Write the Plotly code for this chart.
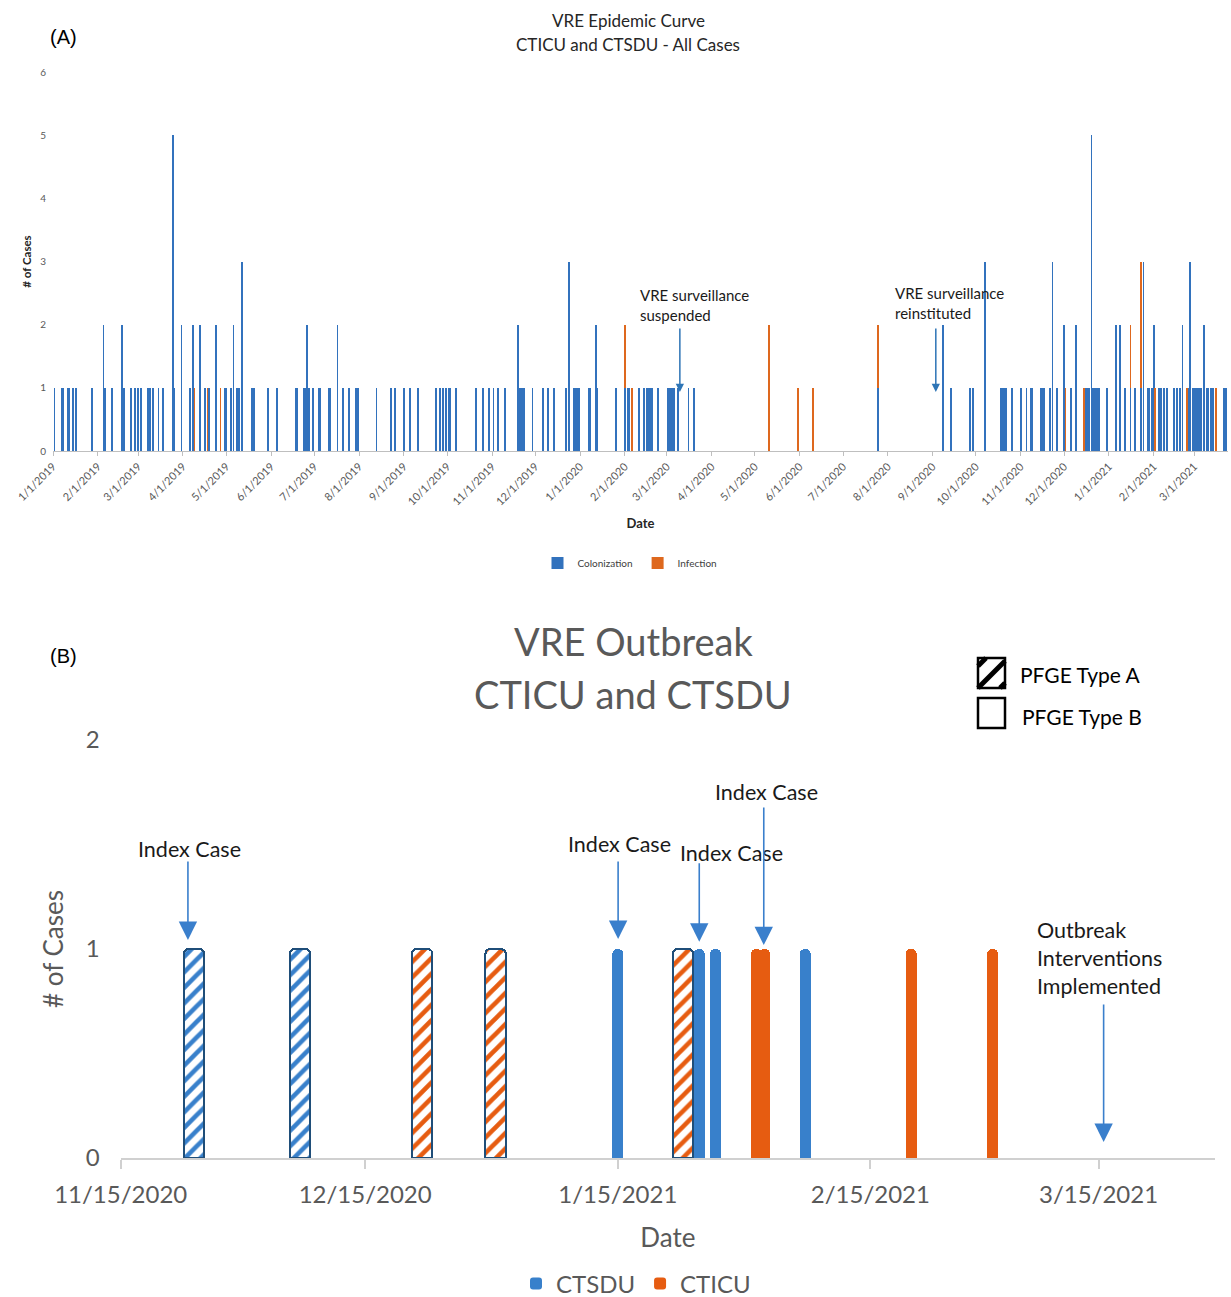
import plotly.graph_objects as go

# ---------------- Panel A data: daily VRE cases ----------------
col_dates_2019 = [
    "2019-01-02", "2019-01-07", "2019-01-08", "2019-01-11", "2019-01-12", "2019-01-15", "2019-01-17", "2019-01-28",
    "2019-02-05", "2019-02-06", "2019-02-11", "2019-02-18", "2019-02-19", "2019-02-24", "2019-02-27",
    "2019-03-01", "2019-03-03", "2019-03-08", "2019-03-09", "2019-03-11", "2019-03-15", "2019-03-18", "2019-03-25", "2019-03-26", "2019-03-31",
    "2019-04-06", "2019-04-08", "2019-04-13", "2019-04-16", "2019-04-19", "2019-04-24", "2019-04-30",
    "2019-05-01", "2019-05-04", "2019-05-06", "2019-05-08", "2019-05-09", "2019-05-10", "2019-05-12", "2019-05-19", "2019-05-20", "2019-05-30",
    "2019-06-05", "2019-06-18", "2019-06-19", "2019-06-24", "2019-06-25", "2019-06-26", "2019-06-27", "2019-06-30",
    "2019-07-04", "2019-07-05", "2019-07-11", "2019-07-12", "2019-07-17", "2019-07-21", "2019-07-25", "2019-07-30", "2019-07-31",
    "2019-08-13", "2019-08-23", "2019-08-26",
    "2019-09-01", "2019-09-05", "2019-09-11", "2019-09-23", "2019-09-26", "2019-09-28", "2019-09-30",
    "2019-10-02", "2019-10-03", "2019-10-07", "2019-10-21", "2019-10-26", "2019-10-30",
    "2019-11-02", "2019-11-05", "2019-11-10", "2019-11-19", "2019-11-20", "2019-11-21", "2019-11-22", "2019-11-23", "2019-11-29",
    "2019-12-06", "2019-12-10", "2019-12-14", "2019-12-22", "2019-12-24", "2019-12-28", "2019-12-29", "2019-12-30", "2019-12-31",
]
col_counts_2019 = [
    1, 1, 1, 1, 1, 1, 1, 1,
    2, 1, 1, 2, 1, 1, 1,
    1, 1, 1, 1, 1, 1, 1, 5, 1, 2,
    1, 2, 2, 1, 1, 2, 1,
    1, 1, 2, 1, 1, 1, 3, 1, 1, 1,
    1, 1, 1, 1, 1, 2, 1, 1,
    1, 1, 1, 1, 2, 1, 1, 1, 1,
    1, 1, 1,
    1, 1, 1, 1, 1, 1, 1,
    1, 1, 1, 1, 1, 1,
    1, 1, 1, 2, 1, 1, 1, 1, 1,
    1, 1, 1, 1, 3, 1, 1, 1, 1,
]
col_dates_2020 = [
    "2020-01-07", "2020-01-08", "2020-01-12", "2020-01-13", "2020-01-26",
    "2020-02-01", "2020-02-03", "2020-02-04", "2020-02-11", "2020-02-14", "2020-02-16", "2020-02-17", "2020-02-18", "2020-02-19", "2020-02-20", "2020-02-24",
    "2020-03-02", "2020-03-03", "2020-03-04", "2020-03-05", "2020-03-06", "2020-03-09", "2020-03-16", "2020-03-20",
    "2020-07-25",
    "2020-09-08", "2020-09-14", "2020-09-27", "2020-09-29",
    "2020-10-07", "2020-10-18", "2020-10-19", "2020-10-20", "2020-10-21", "2020-10-22", "2020-10-26",
    "2020-11-01", "2020-11-05", "2020-11-08", "2020-11-09", "2020-11-15", "2020-11-16", "2020-11-17", "2020-11-21", "2020-11-23", "2020-11-26",
    "2020-12-01", "2020-12-06", "2020-12-09", "2020-12-16", "2020-12-17", "2020-12-18", "2020-12-20", "2020-12-21", "2020-12-22", "2020-12-23", "2020-12-24", "2020-12-25", "2020-12-31",
]
col_counts_2020 = [
    1, 1, 2, 1, 1,
    1, 1, 1, 1, 1, 1, 1, 1, 1, 1, 1,
    1, 1, 1, 1, 1, 1, 1, 1,
    1,
    2, 1, 1, 1,
    3, 1, 1, 1, 1, 1, 1,
    1, 1, 1, 1, 1, 1, 1, 1, 3, 1,
    2, 1, 2, 1, 1, 1, 5, 1, 1, 1, 1, 1, 1,
]
col_dates_2021 = [
    "2021-01-06", "2021-01-09", "2021-01-12", "2021-01-16", "2021-01-19", "2021-01-23", "2021-01-25", "2021-01-28", "2021-01-29", "2021-01-31",
    "2021-02-01", "2021-02-05", "2021-02-06", "2021-02-08", "2021-02-10", "2021-02-15", "2021-02-17", "2021-02-19", "2021-02-21", "2021-02-25", "2021-02-26", "2021-02-28",
    "2021-03-01", "2021-03-02", "2021-03-03", "2021-03-04", "2021-03-05", "2021-03-06", "2021-03-08", "2021-03-10", "2021-03-11", "2021-03-13", "2021-03-14", "2021-03-22", "2021-03-23",
]
col_counts_2021 = [
    2, 2, 1, 1, 1, 1, 3, 1, 1, 1,
    2, 1, 1, 1, 1, 1, 1, 1, 2, 1, 3, 1,
    1, 1, 1, 1, 1, 1, 2, 1, 1, 1, 1, 1, 1,
]
inf_dates = ["2019-04-09", "2019-04-18", "2019-04-27", "2020-02-01", "2020-02-06", "2020-05-11", "2020-05-31", "2020-06-10",
             "2020-07-25", "2020-12-02", "2020-12-15", "2021-01-16", "2021-01-23", "2021-02-02", "2021-02-24", "2021-03-16"]
inf_counts = [1, 1, 1, 1, 1, 2, 1, 1, 1, 1, 1, 1, 2, 1, 1, 1]

col_dates = col_dates_2019 + col_dates_2020 + col_dates_2021
col_counts = col_counts_2019 + col_counts_2020 + col_counts_2021
assert len(col_dates) == len(col_counts) and len(inf_dates) == len(inf_counts)

# ---------------- Panel B data: outbreak cases ----------------
ctsdu_typeA_dates = ["2020-11-24", "2020-12-07"]
ctsdu_typeA_counts = [1, 1]
cticu_typeA_dates = ["2020-12-22", "2020-12-31", "2021-01-23"]
cticu_typeA_counts = [1, 1, 1]
ctsdu_dates = ["2021-01-15", "2021-01-25", "2021-01-27", "2021-02-07"]
ctsdu_counts = [1, 1, 1, 1]
cticu_dates = ["2021-02-01", "2021-02-02", "2021-02-20", "2021-03-02"]
cticu_counts = [1, 1, 1, 1]
b_tick_dates = ["2020-11-15", "2020-12-15", "2021-01-15", "2021-02-15", "2021-03-15"]
b_tick_labels = ["11/15/2020", "12/15/2020", "1/15/2021", "2/15/2021", "3/15/2021"]

DAY = 86400000
FONT = "Lato, 'Open Sans', sans-serif"
W, H = 1231, 1297
def px(x): return x / W
def py(y): return 1 - y / H

A_BLUE, A_ORANGE = "#3272BD", "#DE681E"
B_BLUE, B_ORANGE, B_NAVY = "#3880CB", "#E65C11", "#1F4E79"
GREY = "#595959"

fig = go.Figure()
fig.add_trace(go.Bar(x=col_dates, y=col_counts, name="Colonization", marker=dict(color=A_BLUE, line=dict(width=0)),
                     width=0.6 * DAY, xaxis="x", yaxis="y", legend="legend"))
fig.add_trace(go.Bar(x=inf_dates, y=inf_counts, name="Infection", marker=dict(color=A_ORANGE, line=dict(width=0)),
                     width=0.6 * DAY, xaxis="x", yaxis="y", legend="legend"))

fig.add_trace(go.Bar(x=ctsdu_dates, y=ctsdu_counts, name="CTSDU", marker=dict(color=B_BLUE, cornerradius=5, line=dict(width=0)),
                     width=1.35 * DAY, xaxis="x2", yaxis="y2", legend="legend2"))
fig.add_trace(go.Bar(x=cticu_dates, y=cticu_counts, name="CTICU", marker=dict(color=B_ORANGE, cornerradius=5, line=dict(width=0)),
                     width=1.35 * DAY, xaxis="x2", yaxis="y2", legend="legend2"))
for dates, counts, c, nm in [(ctsdu_typeA_dates, ctsdu_typeA_counts, B_BLUE, "CTSDU PFGE Type A"),
                             (cticu_typeA_dates, cticu_typeA_counts, B_ORANGE, "CTICU PFGE Type A")]:
    fig.add_trace(go.Bar(x=dates, y=counts, name=nm, showlegend=False,
                         marker=dict(color="white", cornerradius=4, line=dict(color=B_NAVY, width=2.2),
                                     pattern=dict(shape="/", fgcolor=c, bgcolor="white", fgopacity=1,
                                                  size=11, solidity=0.42)),
                         width=2.5 * DAY, xaxis="x2", yaxis="y2", legend="legend2"))

fig.update_layout(
    width=W, height=H, margin=dict(l=0, r=0, t=0, b=0, autoexpand=False),
    paper_bgcolor="white", plot_bgcolor="white", barmode="stack",
    font=dict(family=FONT, color=GREY),
    xaxis=dict(domain=[px(53), px(1228)], anchor="y", type="date", range=["2019-01-01", "2021-03-24 12:00"],
               tick0="2019-01-01", dtick="M1", tickformat="%-m/%-d/%Y", tickangle=-45, automargin=False,
               tickfont=dict(size=11, color=GREY), showline=True, linecolor="#BFBFBF", linewidth=1,
               ticks="outside", ticklen=4, tickcolor="#BFBFBF", showgrid=False, zeroline=False,
               title=dict(text="<b>Date</b>", font=dict(size=13, color="#262626"), standoff=12)),
    yaxis=dict(domain=[py(451), py(72)], anchor="x", range=[0, 6], dtick=1, showgrid=False, zeroline=False,
               showline=False, tickfont=dict(size=10, color=GREY), ticklabelstandoff=6, automargin=False,
               title=dict(text="<b># of Cases</b>", font=dict(size=11.5, color="#262626"), standoff=6)),
    xaxis2=dict(domain=[px(120.7), px(1215)], anchor="y2", type="date", range=["2020-11-15", "2021-03-29 07:00"],
                tickvals=b_tick_dates, ticktext=b_tick_labels, tickfont=dict(size=24, color=GREY), automargin=False,
                showline=True, linecolor="#D0D0D0", linewidth=2, ticks="outside", ticklen=9, tickwidth=2,
                tickcolor="#D0D0D0", showgrid=False, zeroline=False, ticklabelstandoff=5,
                title=dict(text="Date", font=dict(size=26, color=GREY), standoff=22)),
    yaxis2=dict(domain=[py(1158), py(740)], anchor="x2", range=[0, 2], tickvals=[0, 1, 2], showgrid=False,
                zeroline=False, showline=False, tickfont=dict(size=24, color=GREY), ticklabelstandoff=20,
                automargin=False,
                title=dict(text="# of Cases", font=dict(size=26, color=GREY), standoff=14)),
    legend=dict(orientation="h", x=px(630), xanchor="center", y=py(563), yanchor="middle", traceorder="normal",
                font=dict(size=10, color="#404040"), itemwidth=30, tracegroupgap=0),
    legend2=dict(orientation="h", x=px(636), xanchor="center", y=py(1284), yanchor="middle", traceorder="normal",
                 font=dict(size=24, color=GREY), itemwidth=30),
)

ann = []
def paper_text(text, x, y, size, color, family=None, xanchor="center"):
    f = dict(size=size, color=color)
    if family:
        f["family"] = family
    return dict(text=text, x=px(x), y=py(y), xref="paper", yref="paper", xanchor=xanchor, yanchor="middle",
                showarrow=False, font=f)

ARIAL = "Liberation Sans, Arial, sans-serif"
ann.append(paper_text("(A)", 48, 37, 20, "black", ARIAL, "left"))
ann.append(paper_text("(B)", 48, 656, 20, "black", ARIAL, "left"))
ann.append(paper_text("VRE Epidemic Curve", 628, 20, 17, "#262626"))
ann.append(paper_text("CTICU and CTSDU - All Cases", 628, 44, 17, "#262626"))
ann.append(paper_text("VRE Outbreak", 633, 641, 38, GREY))
ann.append(paper_text("CTICU and CTSDU", 633, 694, 38, GREY))
ann.append(paper_text("PFGE Type A", 1018, 674, 21, "black", None, "left"))
ann.append(paper_text("PFGE Type B", 1020, 716, 21, "black", None, "left"))

# Panel A callouts
TXT = "#1a1a1a"
ann.append(dict(text="VRE surveillance<br>suspended", x="2020-02-10", y=2.31, xref="x", yref="y", xanchor="left",
                yanchor="middle", align="left", showarrow=False, font=dict(size=15, color=TXT)))
ann.append(dict(text="VRE surveillance<br>reinstituted", x="2020-08-04 14:00", y=2.35, xref="x", yref="y",
                xanchor="left", yanchor="middle", align="left", showarrow=False, font=dict(size=15, color=TXT)))
for xd in ["2020-03-10", "2020-09-03 05:00"]:
    ann.append(dict(text="", x=xd, y=0.934, xref="x", yref="y", ax=0, ay=-65, showarrow=True,
                    arrowhead=2, arrowsize=1.1, arrowwidth=1.5, arrowcolor="#2E75B6"))

# Panel B callouts
for xd, yv in [("2020-11-23 10:00", 1.478), ("2021-01-15 06:30", 1.502), ("2021-01-29", 1.459), ("2021-02-02 07:00", 1.751)]:
    ann.append(dict(text="Index Case", x=xd, y=yv, xref="x2", yref="y2", xanchor="center", yanchor="middle",
                    showarrow=False, font=dict(size=21.5, color=TXT)))
ann.append(dict(text="Outbreak<br>Interventions<br>Implemented", x="2021-03-07 05:00", y=0.957, xref="x2", yref="y2",
                xanchor="left", yanchor="middle", align="left", showarrow=False, font=dict(size=21.5, color=TXT)))
for xd, yv, ay in [("2020-11-23 06:00", 1.043, -80), ("2021-01-15 01:00", 1.048, -79), ("2021-01-25", 1.035, -80),
                   ("2021-02-01 22:00", 1.019, -139), ("2021-03-15 15:00", 0.077, -139)]:
    ann.append(dict(text="", x=xd, y=yv, xref="x2", yref="y2", ax=0, ay=ay, showarrow=True,
                    arrowhead=2, arrowsize=2.3, arrowwidth=1.6, arrowcolor="#3A7FCC"))
fig.update_layout(annotations=ann)

# PFGE type legend boxes (decoration)
shapes = []
bx0, bx1, byA0, byA1 = 978, 1005, 658, 688
w, h = bx1 - bx0, byA1 - byA0
for k in [22, 0, -22]:
    xs, xe = max(0, -k), min(w, h - k)
    if xs < xe:
        shapes.append(dict(type="line", xref="paper", yref="paper",
                           x0=px(bx0 + xs), y0=py(byA1 - (xs + k)), x1=px(bx0 + xe), y1=py(byA1 - (xe + k)),
                           line=dict(color="black", width=5), layer="above"))
shapes.append(dict(type="rect", xref="paper", yref="paper", x0=px(bx0), x1=px(bx1), y0=py(byA1), y1=py(byA0),
                   line=dict(color="black", width=2.5), layer="above"))
shapes.append(dict(type="rect", xref="paper", yref="paper", x0=px(bx0), x1=px(bx1), y0=py(728), y1=py(698),
                   line=dict(color="black", width=2.5), fillcolor="white", layer="above"))
fig.update_layout(shapes=shapes)

fig.write_html("out.html", config={"displayModeBar": False},
               post_script="document.body.style.margin='0';document.documentElement.style.overflow='hidden';")
